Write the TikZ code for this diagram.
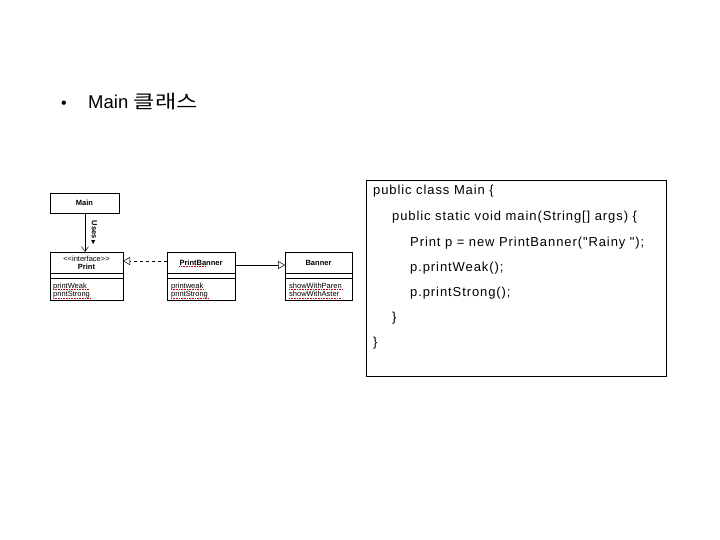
\documentclass[tikz,border=0pt]{standalone}
\usepackage{fontspec}
\setmainfont{Liberation Sans}
\newfontfamily\krfont{Noto Sans CJK KR}
\newfontfamily\symfont{DejaVu Sans}
\newfontfamily\codefont[LetterSpace=7]{Liberation Sans}
\usetikzlibrary{arrows.meta}
\tikzset{
  umlbox/.style={draw, line width=0.6pt, inner sep=0pt},
  umltxt/.style={font=\fontsize{7.5}{8.5}\selectfont, inner sep=0pt},
  umlbold/.style={font=\fontsize{7.5}{8.5}\selectfont\bfseries, inner sep=0pt},
  optxt/.style={font=\fontsize{7.5}{8.5}\selectfont, inner sep=0pt, anchor=base west},
  squig/.style={draw=red!80!black, line width=0.4pt, dash pattern=on 1pt off 0.6pt},
  code/.style={font=\codefont\fontsize{13}{15}\selectfont, anchor=west, inner sep=0pt},
  hollow/.style={-{Triangle[open, length=7pt, width=8pt]}},
}
\begin{document}
\begin{tikzpicture}[x=1pt,y=-1pt]
\useasboundingbox (0,0) rectangle (720,540);
% title
\node[font=\fontsize{16}{18}\selectfont, inner sep=0pt] (bul) at (64,105) {•};
\node[anchor=west, inner sep=0pt, font=\fontsize{18.5}{20}\selectfont] (title) at (88,102) {Main\hspace{0.3em}{\krfont\scalebox{1.25}[1]{클래스}}};

% Main
\draw[umlbox] (50,193) rectangle (119,213);
\node[umlbold] (main) at (84.5,203) {Main};
\coordinate (mainb) at (85,213);

% Print
\draw[umlbox] (50,252) rectangle (123,300);
\draw[line width=0.5pt] (50,273) -- (123,273) (50,278.5) -- (123,278.5);
\node[umltxt] (intf) at (86.5,258.5) {{<}{<}interface{>}{>}};
\node[umlbold] (print) at (86.5,267) {Print};
\node[optxt] (pw) at (53,288) {printWeak};
\node[optxt] (ps) at (53,296.5) {printStrong};
\draw[squig] (pw.base west) ++(0,1.2) -- ++(36,0);
\draw[squig] (ps.base west) ++(0,1.2) -- ++(38,0);
\coordinate (printt) at (85,252);
\coordinate (printr) at (123,261);

% PrintBanner
\draw[umlbox] (167,252) rectangle (235,300);
\draw[line width=0.5pt] (167,273) -- (235,273) (167,278.5) -- (235,278.5);
\node[umlbold] (pb) at (201,262.5) {PrintBanner};
\draw[squig] (pb.south west) ++(0,0.8) -- ++(27,0);
\node[optxt] (pbw) at (171,288) {printweak};
\node[optxt] (pbs) at (171,296.5) {printStrong};
\draw[squig] (pbw.base west) ++(0,1.2) -- ++(33,0);
\draw[squig] (pbs.base west) ++(0,1.2) -- ++(38,0);
\coordinate (pbl) at (167,261);
\coordinate (pbr) at (235,265);

% Banner
\draw[umlbox] (285,252) rectangle (352,300);
\draw[line width=0.5pt] (285,273) -- (352,273) (285,278.5) -- (352,278.5);
\node[umlbold] (ban) at (318.5,262.5) {Banner};
\node[optxt] (bsp) at (289,288) {showWithParen};
\node[optxt] (bsa) at (289,296.5) {showWithAster};
\draw[squig] (bsp.base west) ++(0,1.2) -- ++(54,0);
\draw[squig] (bsa.base west) ++(0,1.2) -- ++(52,0);
\coordinate (banl) at (285,265);

% connectors
\draw[line width=0.5pt, -{Straight Barb[length=5pt, width=7pt]}] (mainb) -- (printt);
\node[umlbold, rotate=-90] (uses) at (94,233) {Uses {\symfont\fontsize{5.5}{6}\selectfont ▶}};
\draw[line width=0.5pt, dashed, hollow] (pbl) -- (printr);
\draw[line width=0.5pt, hollow] (pbr) -- (banl);

% code box
\draw[line width=0.8pt] (366,180) rectangle (666,376);
\node[code] (c1) at (373,191) {public class Main \{};
\node[code] (c2) at (392,217) {public static void main(String[] args) \{};
\node[code] (c3) at (410,243) {Print p = new PrintBanner("Rainy ");};
\node[code] (c4) at (410,268) {p.printWeak();};
\node[code] (c5) at (410,293) {p.printStrong();};
\node[code] (c6) at (392,318) {\}};
\node[code] (c7) at (373,343) {\}};
\end{tikzpicture}
\end{document}
